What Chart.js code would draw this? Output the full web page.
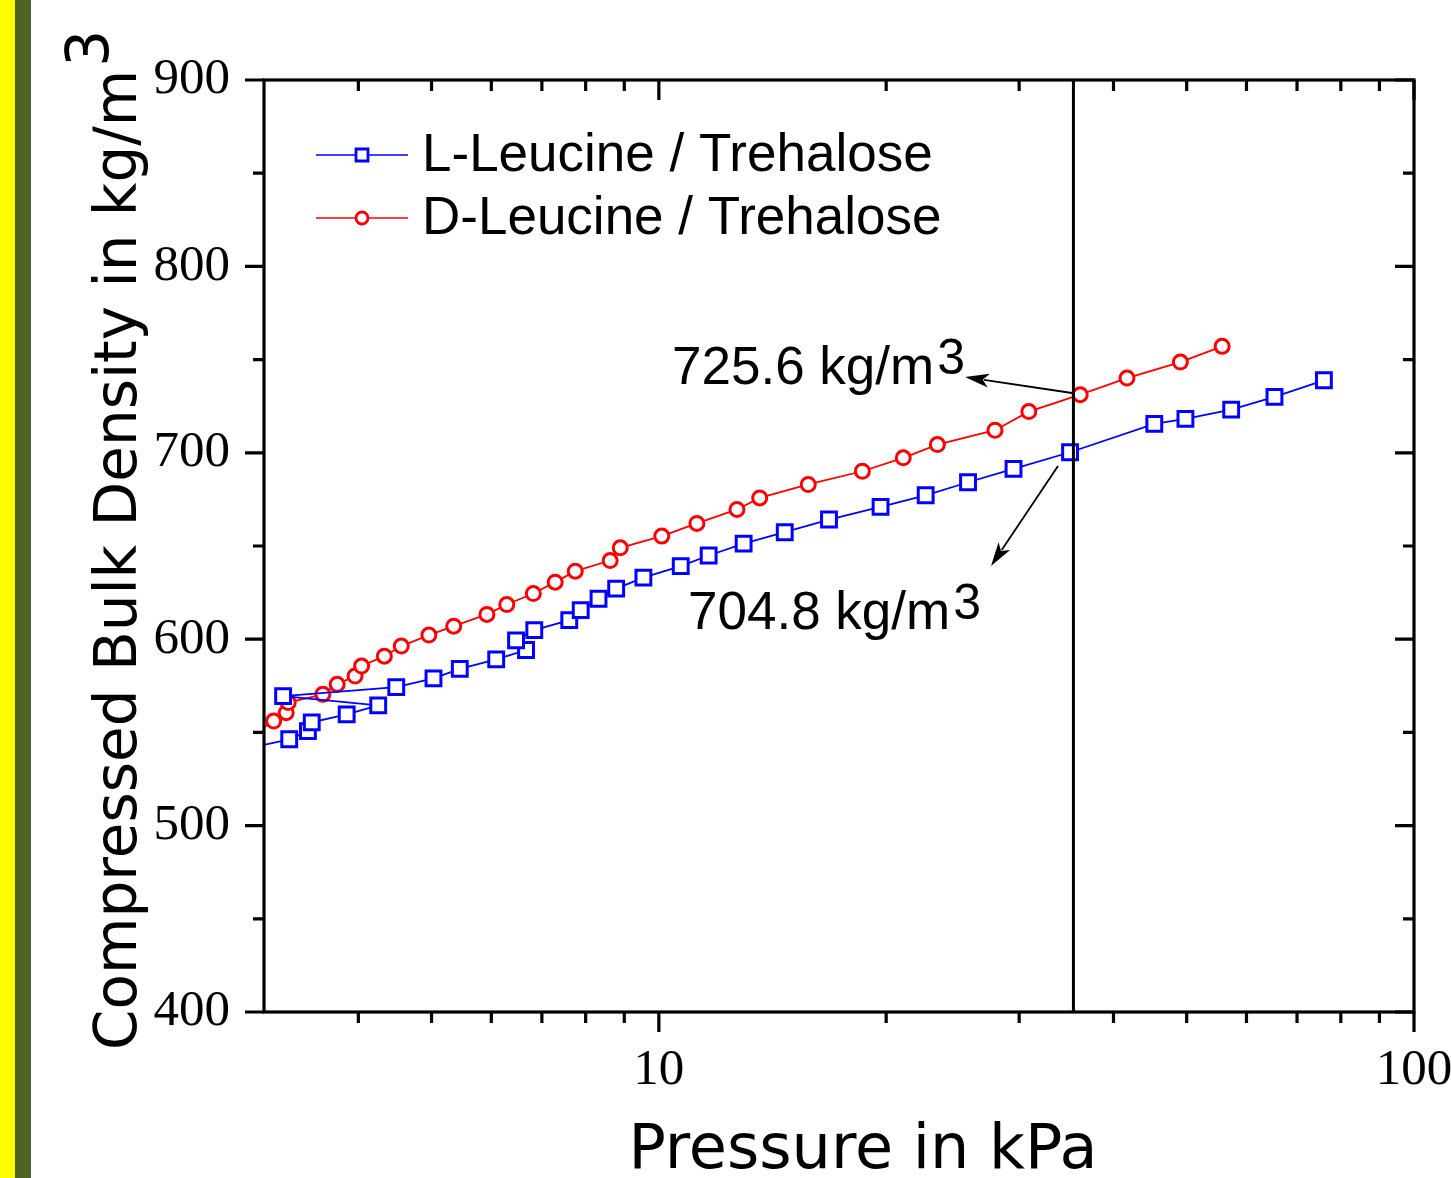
<!DOCTYPE html>
<html>
<head>
<meta charset="utf-8">
<script src="https://cdn.jsdelivr.net/npm/chart.js@4.4.1/dist/chart.umd.min.js"></script>
<style>
  html, body { margin: 0; padding: 0; background: #fff; }
  canvas { display: block; }
</style>
</head>
<body>
<canvas id="chart" width="1451" height="1178"></canvas>
<script>
// pressure in kPa / density in kg/m3
const lLeucinePressure = [2.9, 3.24, 3.43, 3.47, 3.86, 4.25, 3.18, 4.49, 5.03, 5.45, 6.09, 6.67, 6.47, 6.84, 7.61, 7.88, 8.32, 8.78, 9.54, 10.69, 11.64, 12.95, 14.68, 16.8, 19.66, 22.56, 25.67, 29.49, 35.04, 45.3, 49.81, 57.27, 65.35, 75.98];
const lLeucineDensity = [542, 546.3, 550.7, 555.4, 559.7, 564.5, 569.5, 574.3, 579.0, 584.1, 589.2, 594.2, 599.4, 604.9, 610.2, 615.6, 621.7, 627.1, 633.0, 639.2, 644.9, 651.3, 657.4, 664.2, 671.0, 677.2, 684.2, 691.4, 700.3, 715.5, 718.2, 723.2, 730.0, 738.9];
const dLeucinePressure = [2.9, 3.09, 3.21, 3.23, 3.59, 3.75, 3.96, 4.04, 4.33, 4.56, 4.96, 5.35, 5.92, 6.29, 6.82, 7.29, 7.75, 8.62, 8.89, 10.09, 11.23, 12.69, 13.6, 15.77, 18.6, 21.07, 23.38, 27.87, 30.9, 36.14, 41.68, 49.05, 55.71];
const dLeucineDensity = [549, 556.1, 560.6, 566.0, 570.4, 575.8, 580.2, 585.6, 590.9, 596.3, 602.2, 607.0, 613.3, 618.6, 624.5, 630.6, 636.5, 642.2, 649.0, 655.3, 662.1, 669.6, 675.8, 683.0, 690.1, 697.3, 704.4, 712.1, 722.1, 731.2, 740.1, 748.7, 757.1];

const xMajorTicks = [10, 100];
const xMinorTicks = [4, 5, 6, 7, 8, 9, 20, 30, 40, 50, 60, 70, 80, 90];
const yMajorTicks = [400, 500, 600, 700, 800, 900];
const yMinorTicks = [450, 550, 650, 750, 850];
const markerPressure = 35.4;

const seriesLabels = ["L-Leucine / Trehalose", "D-Leucine / Trehalose"];
const noteLabels = ["725.6 kg/m", "704.8 kg/m"];

function toPoints(xs, ys) {
  return xs.map((x, i) => ({ x: x, y: ys[i] }));
}

function arrow(ctx, x0, y0, x1, y1) {
  const a = Math.atan2(y1 - y0, x1 - x0);
  const len = 24, half = 7;
  ctx.beginPath();
  ctx.moveTo(x0, y0);
  ctx.lineTo(x1 - Math.cos(a) * len * 0.8, y1 - Math.sin(a) * len * 0.8);
  ctx.stroke();
  ctx.beginPath();
  ctx.moveTo(x1, y1);
  ctx.lineTo(x1 - Math.cos(a) * len - Math.sin(a) * half, y1 - Math.sin(a) * len + Math.cos(a) * half);
  ctx.lineTo(x1 - Math.cos(a) * len * 0.75, y1 - Math.sin(a) * len * 0.75);
  ctx.lineTo(x1 - Math.cos(a) * len + Math.sin(a) * half, y1 - Math.sin(a) * len - Math.cos(a) * half);
  ctx.closePath();
  ctx.fill();
}

function supText(ctx, text, x, y, font, supFont, raise) {
  ctx.font = font;
  ctx.fillText(text, x, y);
  const w = ctx.measureText(text).width;
  ctx.font = supFont;
  ctx.fillText("3", x + w + 3, y - raise);
}

const decor = {
  id: "decor",
  beforeDraw(chart) {
    const ctx = chart.ctx;
    ctx.save();
    ctx.fillStyle = "#ffff00";
    ctx.fillRect(0, 0, 15, chart.height);
    ctx.fillStyle = "#4f6228";
    ctx.fillRect(15, 0, 16, chart.height);
    ctx.restore();
  },
  afterDatasetsDraw(chart) {
    const ctx = chart.ctx, a = chart.chartArea;
    const x = chart.scales.x.getPixelForValue(markerPressure);
    ctx.save();
    ctx.strokeStyle = "#000";
    ctx.lineWidth = 3;
    ctx.beginPath();
    ctx.moveTo(x, a.top);
    ctx.lineTo(x, a.bottom);
    ctx.stroke();
    ctx.restore();
  },
  afterDraw(chart) {
    const ctx = chart.ctx, a = chart.chartArea;
    const xs = chart.scales.x, ys = chart.scales.y;
    ctx.save();
    ctx.strokeStyle = "#000";
    ctx.fillStyle = "#000";
    ctx.lineWidth = 3.2;
    ctx.strokeRect(a.left, a.top, a.right - a.left, a.bottom - a.top);

    // ticks: out on left/bottom, in on top/right
    ctx.beginPath();
    const xt = (v, len) => {
      const p = xs.getPixelForValue(v);
      ctx.moveTo(p, a.bottom); ctx.lineTo(p, a.bottom + len);
      ctx.moveTo(p, a.top); ctx.lineTo(p, a.top + len);
    };
    const yt = (v, len) => {
      const p = ys.getPixelForValue(v);
      ctx.moveTo(a.left, p); ctx.lineTo(a.left - len, p);
      ctx.moveTo(a.right, p); ctx.lineTo(a.right - len, p);
    };
    xMajorTicks.forEach(v => xt(v, 20));
    xMinorTicks.forEach(v => xt(v, 11));
    yMajorTicks.forEach(v => yt(v, 19));
    yMinorTicks.forEach(v => yt(v, 11));
    ctx.stroke();

    // legend
    chart.data.datasets.forEach((ds, i) => {
      const y = 155 + i * 63;
      ctx.strokeStyle = ds.borderColor;
      ctx.lineWidth = 1.5;
      ctx.beginPath();
      ctx.moveTo(316, y); ctx.lineTo(408, y);
      ctx.stroke();
      ctx.fillStyle = "#fff";
      ctx.lineWidth = 2.8;
      ctx.beginPath();
      if (ds.pointStyle === "rect") ctx.rect(356, y - 6, 12, 12);
      else ctx.arc(362, y, 6, 0, Math.PI * 2);
      ctx.fill();
      ctx.stroke();
      ctx.fillStyle = "#000";
      ctx.font = "53px 'Liberation Sans', Arial, sans-serif";
      ctx.textBaseline = "alphabetic";
      ctx.textAlign = "left";
      ctx.fillText(ds.label, 422, y + 16);
    });

    // annotations
    ctx.fillStyle = "#000";
    ctx.strokeStyle = "#000";
    ctx.lineWidth = 1.8;
    supText(ctx, noteLabels[0], 672, 384, "53px 'Liberation Sans', Arial, sans-serif", "50px 'Liberation Sans', Arial, sans-serif", 10);
    supText(ctx, noteLabels[1], 688, 629, "53px 'Liberation Sans', Arial, sans-serif", "50px 'Liberation Sans', Arial, sans-serif", 10);
    arrow(ctx, 1072, 393, 965, 377);
    arrow(ctx, 1058, 466, 991, 566);

    // axis titles
    ctx.font = "62px 'DejaVu Sans', sans-serif";
    ctx.textAlign = "center";
    ctx.fillText("Pressure in kPa", 863, 1168);
    ctx.save();
    ctx.translate(136, 1050);
    ctx.rotate(-Math.PI / 2);
    ctx.textAlign = "left";
    supText(ctx, "Compressed Bulk Density in kg/m", 0, 0, "58px 'DejaVu Sans', sans-serif", "58px 'DejaVu Sans', sans-serif", 28);
    ctx.restore();
    ctx.restore();
  }
};

new Chart(document.getElementById("chart"), {
  type: "scatter",
  data: {
    datasets: [
      {
        label: seriesLabels[0],
        data: toPoints(lLeucinePressure, lLeucineDensity),
        showLine: true,
        borderColor: "#0000ff",
        borderWidth: 1.8,
        pointStyle: "rect",
        pointRadius: 10.5,
        pointBorderWidth: 3,
        pointBorderColor: "#0000ff",
        pointBackgroundColor: "#ffffff"
      },
      {
        label: seriesLabels[1],
        data: toPoints(dLeucinePressure, dLeucineDensity),
        showLine: true,
        borderColor: "#ff0000",
        borderWidth: 1.8,
        pointStyle: "circle",
        pointRadius: 7,
        pointBorderWidth: 3,
        pointBorderColor: "#ff0000",
        pointBackgroundColor: "#ffffff"
      }
    ]
  },
  options: {
    responsive: false,
    animation: false,
    devicePixelRatio: 1,
    events: [],
    layout: { padding: { left: 0, right: 37, top: 80, bottom: 0 } },
    plugins: { legend: { display: false }, tooltip: { enabled: false } },
    scales: {
      x: {
        type: "logarithmic",
        min: 3,
        max: 100,
        grid: { display: false, drawTicks: false },
        border: { display: false },
        ticks: {
          color: "#000",
          font: { family: "'Liberation Serif', 'Times New Roman', serif", size: 51 },
          padding: 28,
          autoSkip: false,
          maxRotation: 0,
          callback: v => String(v)
        },
        afterBuildTicks: s => { s.ticks = xMajorTicks.map(v => ({ value: v })); },
        afterFit: s => { s.height = 166; s.paddingLeft = 0; s.paddingRight = 0; }
      },
      y: {
        min: 400,
        max: 900,
        grid: { display: false, drawTicks: false },
        border: { display: false },
        ticks: {
          stepSize: 100,
          color: "#000",
          font: { family: "'Liberation Serif', 'Times New Roman', serif", size: 51 },
          padding: 34
        },
        afterBuildTicks: s => { s.ticks = yMajorTicks.map(v => ({ value: v })); },
        afterFit: s => { s.width = 264; s.paddingTop = 0; s.paddingBottom = 0; }
      }
    }
  },
  plugins: [decor]
});
</script>
</body>
</html>
